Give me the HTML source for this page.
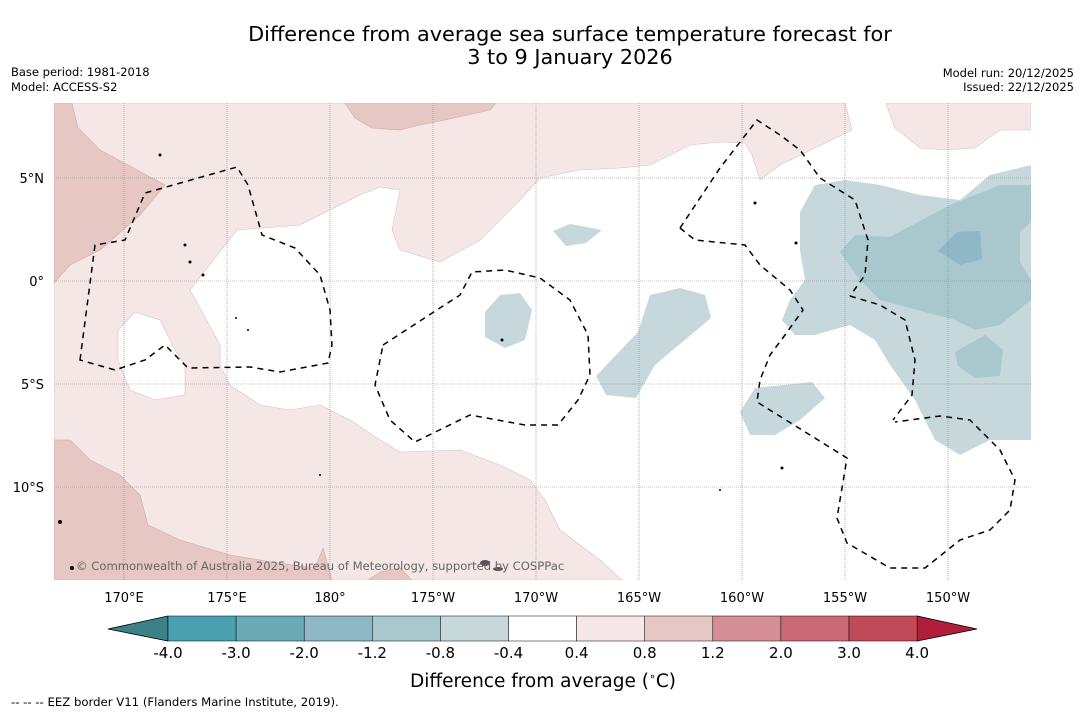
<!DOCTYPE html>
<html><head><meta charset="utf-8">
<style>
body{margin:0;background:#fff;width:1085px;height:713px;overflow:hidden;font-family:"DejaVu Sans","Liberation Sans",sans-serif;}
svg{position:absolute;left:0;top:0}
text{font-family:"DejaVu Sans","Liberation Sans",sans-serif;}
</style></head><body>
<svg id="chart" width="1085" height="713" viewBox="0 0 1085 713">
<text x="570" y="41" font-size="20.8" text-anchor="middle">Difference from average sea surface temperature forecast for</text>
<text x="570" y="64" font-size="20.8" text-anchor="middle">3 to 9 January 2026</text>
<text x="11" y="76" font-size="11.5">Base period: 1981-2018</text>
<text x="11" y="91" font-size="11.5">Model: ACCESS-S2</text>
<text x="1074" y="77" font-size="11.5" text-anchor="end">Model run: 20/12/2025</text>
<text x="1074" y="91" font-size="11.5" text-anchor="end">Issued: 22/12/2025</text>

<g id="map">
<clipPath id="mc"><rect x="54" y="103" width="977" height="477"/></clipPath>
<g clip-path="url(#mc)">
<rect x="54" y="103" width="977" height="477" fill="#fff"/>
<path fill="#f4e7e6" fill-rule="evenodd" stroke="#d8c4c2" stroke-width="0.6" d="M54,103 L845,103 L852,130 L780,165 L760,180 L752,155 L745,143 L720,142 L690,145 L650,165 L620,168 L580,170 L540,178 L520,200 L480,240 L440,262 L400,250 L392,230 L400,190 L380,187 L360,195 L300,225 L237,230 L190,290 L220,345 L220,365 L230,385 L260,405 L290,410 L320,405 L350,420 L380,440 L400,452 L460,450 L500,465 L530,480 L545,500 L560,530 L600,560 L622,580 L54,580 Z M118,330 L135,312 L160,320 L175,350 L185,365 L185,395 L155,400 L130,390 L118,360 Z"/>
<path fill="#f4e7e6" stroke="#d8c4c2" stroke-width="0.6" d="M886,103 L1031,103 L1031,130 L1000,130 L975,148 L945,150 L920,148 L895,128 Z"/>
<path fill="#e6c7c3" stroke="#d0aaa6" stroke-width="0.6" d="M54,103 L72,103 L78,128 L100,150 L165,185 L140,215 L100,250 L70,265 L54,283 Z"/>
<path fill="#e6c7c3" stroke="#d0aaa6" stroke-width="0.6" d="M345,103 L496,103 L490,110 L445,120 L420,125 L400,130 L372,128 L355,118 Z"/>
<path fill="#e6c7c3" stroke="#d0aaa6" stroke-width="0.6" d="M54,440 L70,440 L90,460 L120,475 L140,495 L148,525 L180,540 L230,555 L272,562 L315,568 L323,548 L332,580 L54,580 Z M368,580 L380,572 L400,568 L412,580 Z"/>
<path fill="#c6d8dc" d="M800,212 L815,185 L845,180 L880,185 L920,195 L960,200 L990,175 L1031,165 L1031,440 L990,440 L960,455 L935,440 L915,400 L890,365 L875,340 L850,325 L815,335 L795,335 L782,320 L790,300 L805,280 L800,250 Z"/>
<path fill="#a8c8ce" d="M840,252 L855,235 L890,237 L950,205 L1000,185 L1031,185 L1031,222 L1020,232 L1020,262 L1031,280 L1031,300 L1000,325 L975,330 L955,320 L925,312 L880,300 L860,280 Z M955,352 L985,335 L1003,350 L1000,376 L975,378 L958,366 Z"/>
<path fill="#8eb8c5" d="M938,251 L957,232 L980,231 L982,259 L960,265 Z"/>
<path fill="#c6d8dc" d="M740,412 L755,388 L812,382 L825,398 L800,420 L775,435 L750,435 Z"/>
<path fill="#c6d8dc" d="M596,376 L638,332 L650,295 L680,288 L705,295 L711,318 L680,344 L655,365 L636,398 L606,395 Z"/>
<path fill="#c6d8dc" d="M485,312 L500,295 L520,293 L532,310 L525,340 L505,348 L485,337 Z"/>
<path fill="#c6d8dc" d="M553,231 L570,224 L602,230 L586,243 L566,246 Z"/>
</g>
<g id="grid"></g>
<g fill="none" stroke="#000" stroke-width="1.5" stroke-dasharray="6,5" clip-path="url(#mc)">
<path d="M80,360 L95,245 L125,240 L145,193 L237,167 L248,185 L262,235 L295,248 L320,275 L330,310 L332,345 L328,363 L280,372 L250,367 L188,368 L165,345 L145,360 L115,370 Z"/>
<path d="M383,345 L460,295 L472,272 L505,270 L540,278 L570,300 L588,335 L590,375 L578,400 L558,425 L525,425 L470,415 L415,442 L390,420 L375,385 Z"/>
<path d="M680,228 L720,168 L757,120 L780,135 L800,150 L820,178 L855,200 L868,240 L865,275 L850,296 M850,296 L880,305 L905,320 L915,360 L912,395 L893,420"/>
<path d="M680,228 L695,240 L745,245 L760,265 L790,290 L803,310 L785,335 L770,355 L760,380 L757,402 L847,458 L837,518 L847,543 L890,568 L925,568 L960,540 L990,530 L1010,510 L1015,480 L1000,450 L970,420 L940,416 L895,422"/>
</g>
<g id="islands" fill="#000">
<circle cx="160" cy="155" r="1.5"/><circle cx="185" cy="245" r="1.5"/><circle cx="190" cy="262" r="1.5"/><circle cx="203" cy="275" r="1.5"/><circle cx="755" cy="203" r="1.5"/><circle cx="796" cy="243" r="1.5"/><circle cx="502" cy="340" r="1.5"/><circle cx="60" cy="522" r="2"/><circle cx="72" cy="568" r="2"/><ellipse cx="485" cy="563" rx="5" ry="3" fill="#555"/><ellipse cx="498" cy="569" rx="5" ry="2" fill="#555"/><circle cx="236" cy="318" r="1"/><circle cx="248" cy="330" r="1"/><circle cx="320" cy="475" r="1"/><circle cx="720" cy="490" r="1"/><circle cx="782" cy="468" r="1.5"/>
</g>
<text x="76" y="570" font-size="11.6" fill="#666">© Commonwealth of Australia 2025, Bureau of Meteorology, supported by COSPPac</text>
</g>
<g id="axisLabels" font-size="13"></g>
<g id="cbar"></g>
<text x="543" y="687" font-size="18.5" text-anchor="middle">Difference from average (<tspan font-size="11" dy="-7">∘</tspan><tspan dy="7">C)</tspan></text>
<text x="11" y="706" font-size="11.7">--  --  -- EEZ border V11 (Flanders Marine Institute, 2019).</text>
</svg>
<script>
const NS="http://www.w3.org/2000/svg";
const lonTicks=[170,175,180,-175,-170,-165,-160,-155,-150];
const lonLabels=["170°E","175°E","180°","175°W","170°W","165°W","160°W","155°W","150°W"];
const latTicks=[5,0,-5,-10];
const latLabels=["5°N","0°","5°S","10°S"];
const cbBounds=[-4.0,-3.0,-2.0,-1.2,-0.8,-0.4,0.4,0.8,1.2,2.0,3.0,4.0];
const cbColors=["#4aa0b0","#6aabb7","#8eb8c5","#a8c8ce","#c6d8dc","#ffffff","#f4e7e6","#e6c7c3","#d58e96","#cb6a75","#c04a58"];
const cbLowColor="#3c8088", cbHighColor="#b01e3c";
function xLon(l){const e=l<0?l+360:l;return 124+(e-170)*20.6;}
function yLat(l){return 281-l*20.6;}
function cbX(i){return 168+i*68.1;}
function mk(tag,attrs,parent){const el=document.createElementNS(NS,tag);for(const k in attrs)el.setAttribute(k,attrs[k]);parent.appendChild(el);return el;}
const grid=document.getElementById('grid'),ax=document.getElementById('axisLabels'),cb=document.getElementById('cbar');
lonTicks.forEach((l,i)=>{
  const x=xLon(l);
  const ln=mk('line',{x1:x,x2:x,y1:103,y2:580,stroke:'#888','stroke-width':0.6,'stroke-dasharray':'1,1'},grid);
  
  
  const t=mk('text',{x:x,y:602,'text-anchor':'middle'},ax);t.textContent=lonLabels[i];
  
  
});
latTicks.forEach((l,i)=>{
  const y=yLat(l);
  const ln=mk('line',{x1:54,x2:1031,y1:y,y2:y,stroke:'#888','stroke-width':0.6,'stroke-dasharray':'1,1'},grid);
  
  
  const t=mk('text',{x:44,y:y+5,'text-anchor':'end'},ax);t.textContent=latLabels[i];
  
  
});
const n=cbColors.length;
const lo=mk('polygon',{points:`108,629 ${cbX(0)},616 ${cbX(0)},641`,fill:cbLowColor,stroke:'#000','stroke-width':0.8},cb);


const hi=mk('polygon',{points:`977,629 ${cbX(n)},616 ${cbX(n)},641`,fill:cbHighColor,stroke:'#000','stroke-width':0.8},cb);


cbColors.forEach((c,i)=>{
  const r=mk('rect',{x:cbX(i),y:616,width:cbX(i+1)-cbX(i),height:25,fill:c,stroke:'#000','stroke-width':0.5},cb);
  
  
});
cbBounds.forEach((b,i)=>{
  const t=mk('text',{x:cbX(i),y:658,'text-anchor':'middle','font-size':15},cb);
  t.textContent=b.toFixed(1);
  
  
});
</script>
</body></html>
